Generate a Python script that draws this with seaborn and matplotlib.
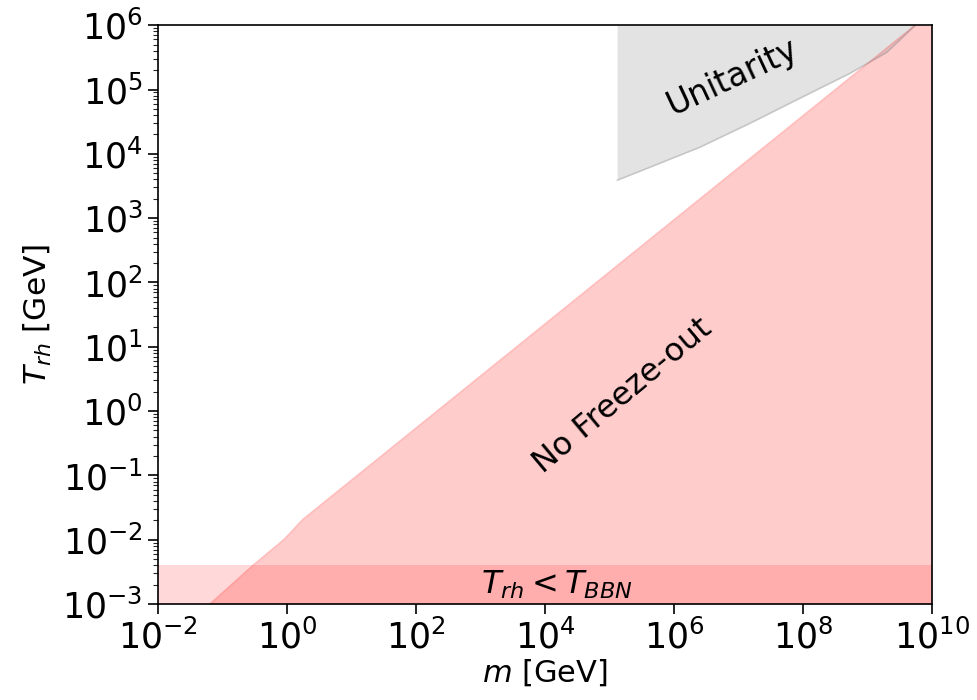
import numpy as np
import pandas as pd
import matplotlib
matplotlib.use("Agg")
import matplotlib.pyplot as plt
import matplotlib.ticker as mticker
import seaborn as sns

# Freeze-out boundary: reheating temperature vs mass
fo_m = [0.064, 0.29, 0.87, 1.15, 1.43, 1.8, 5.5e9]
fo_T = [1e-3, 3.9e-3, 9.8e-3, 0.013, 0.0166, 0.021, 1e6]

# Unitarity bound (lower edge of the excluded region)
un_m = [1.31e5, 4.25e5, 2.53e6, 1.51e7, 8.97e7, 5.36e8, 2.0e9, 5.5e9]
un_T = [3.88e3, 6.2e3, 1.27e4, 2.99e4, 7.33e4, 1.79e5, 3.8e5, 1e6]

# BBN limit on the reheating temperature
T_bbn = 4e-3

x_lim = (1e-2, 1e10)
y_lim = (1e-3, 1e6)

sns.set_style("ticks")
plt.rcParams["font.family"] = ["DejaVu Sans"]
plt.rcParams["mathtext.fontset"] = "dejavusans"
plt.rcParams["text.color"] = "black"
plt.rcParams["axes.labelcolor"] = "black"

fig, ax = plt.subplots(figsize=(9.77, 7.0), dpi=100)
fig.subplots_adjust(left=0.1617, right=0.954, top=0.964, bottom=0.137)

fo = pd.DataFrame({"m": fo_m, "T": fo_T})
un = pd.DataFrame({"m": un_m, "T": un_T})

# No freeze-out region: below the boundary, extended to the right edge
fo_fill_m = fo_m + [x_lim[1]]
fo_fill_T = fo_T + [y_lim[1]]
ax.fill_between(fo_fill_m, y_lim[0], fo_fill_T, color="red", alpha=0.2, linewidth=0)
sns.lineplot(data=fo, x="m", y="T", ax=ax, color="red", alpha=0.25, linewidth=1.2,
             estimator=None, sort=False)

# Unitarity region: above the bound
ax.fill_between(un_m, un_T, y_lim[1], color="gray", alpha=0.22, linewidth=0)
sns.lineplot(data=un, x="m", y="T", ax=ax, color="gray", alpha=0.3, linewidth=1.2,
             estimator=None, sort=False)

# BBN band
ax.fill_between(list(x_lim), y_lim[0], T_bbn, color="red", alpha=0.15, linewidth=0)

ax.set_xscale("log")
ax.set_yscale("log")
ax.set_xlim(*x_lim)
ax.set_ylim(*y_lim)

ax.xaxis.set_major_locator(mticker.FixedLocator([10.0**k for k in range(-2, 11, 2)]))
ax.xaxis.set_minor_locator(mticker.NullLocator())
ax.yaxis.set_major_locator(mticker.FixedLocator([10.0**k for k in range(-3, 7)]))
ax.yaxis.set_minor_locator(mticker.LogLocator(base=10, subs=np.arange(2, 10), numticks=30))
ax.yaxis.set_minor_formatter(mticker.NullFormatter())
ax.xaxis.set_major_formatter(mticker.LogFormatterSciNotation())
ax.yaxis.set_major_formatter(mticker.LogFormatterSciNotation())

ax.tick_params(axis="both", which="major", labelsize=25, length=7, width=1.2,
               direction="out", colors="black", pad=4)
ax.tick_params(axis="y", which="minor", length=3.5, width=0.8, direction="out")
for s in ax.spines.values():
    s.set_visible(True)
    s.set_color("black")
    s.set_linewidth(1.2)

ax.set_xlabel(r"$m$ [GeV]", fontsize=22, labelpad=1)
ax.set_ylabel(r"$T_{rh}$ [GeV]", fontsize=22.5, labelpad=6)

ax.text(8e6, 1.55e5, "Unitarity", fontsize=23.5, rotation=25, ha="center", va="center")
ax.text(1.6e5, 1.7, "No Freeze-out", fontsize=23, rotation=40, ha="center", va="center")
ax.text(1.5e4, 2.0e-3, r"$T_{rh} < T_{BBN}$", fontsize=23, ha="center", va="center")

fig.savefig("out.png", dpi=100)
